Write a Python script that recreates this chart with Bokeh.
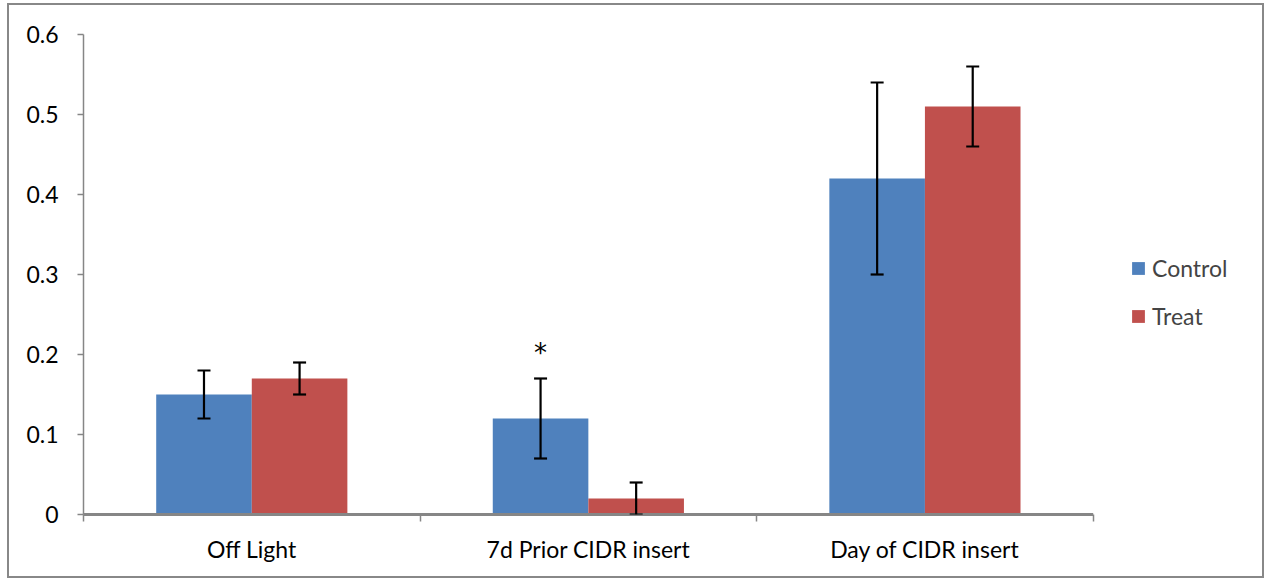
from bokeh.plotting import figure
from bokeh.models import (ColumnDataSource, Whisker, FixedTicker, Legend, LegendItem,
                          Range1d, Label)
from bokeh.embed import file_html
from bokeh.resources import INLINE

categories = ["Off Light", "7d Prior CIDR insert", "Day of CIDR insert"]
control = [0.15, 0.12, 0.42]
treat = [0.17, 0.02, 0.51]
control_err = [0.03, 0.05, 0.12]
treat_err = [0.02, 0.02, 0.05]
sig_marks = ["", "*", ""]
y_ticks = [0, 0.1, 0.2, 0.3, 0.4, 0.5, 0.6]
y_tick_labels = ["0", "0.1", "0.2", "0.3", "0.4", "0.5", "0.6"]

FONT = "Lato"
FS = "23px"
BLUE = "#4F81BD"
RED = "#C0504D"
AXIS = "#868686"
BW = 0.284
N = len(categories)
X_END = N + 0.5   # extra room on the right of the axis for the legend

idx = list(range(N))
xc = [i + 0.5 - BW / 2 for i in idx]
xt = [i + 0.5 + BW / 2 for i in idx]

src_c = ColumnDataSource(dict(x=xc, top=control,
                              lo=[v - e for v, e in zip(control, control_err)],
                              hi=[v + e for v, e in zip(control, control_err)]))
src_t = ColumnDataSource(dict(x=xt, top=treat,
                              lo=[max(0, v - e) for v, e in zip(treat, treat_err)],
                              hi=[v + e for v, e in zip(treat, treat_err)]))

p = figure(width=1257, height=575, output_backend="svg", toolbar_location=None,
           x_range=Range1d(0, X_END), y_range=Range1d(0, 0.6),
           min_border_left=74, min_border_right=5, min_border_top=29,
           min_border_bottom=66)
p.styles = {"border": "2px solid #888888", "margin-left": "7px", "margin-top": "3px"}
p.outline_line_color = None
p.xgrid.grid_line_color = None
p.ygrid.grid_line_color = None

rc = p.vbar(x="x", top="top", width=BW, bottom=0, source=src_c, fill_color=BLUE, line_color=None)
rt = p.vbar(x="x", top="top", width=BW, bottom=0, source=src_t, fill_color=RED, line_color=None)

# category axis baseline (only under the categories)
p.segment(x0=[0], y0=[0], x1=[N], y1=[0], line_color=AXIS, line_width=3, level="overlay")

for s in (src_c, src_t):
    w = Whisker(base="x", lower="lo", upper="hi", source=s, line_color="black",
                line_width=2.2, level="overlay")
    for h in (w.upper_head, w.lower_head):
        h.size = 13
        h.line_width = 2.2
        h.line_color = "black"
    p.add_layout(w)

for i, m in enumerate(sig_marks):
    if m:
        p.add_layout(Label(x=xc[i], y=control[i] + control_err[i], text=m, text_align="center",
                           text_baseline="bottom", y_offset=11, text_font="DejaVu Sans",
                           text_font_size="26px", text_color="black"))

# axes
p.xaxis.ticker = FixedTicker(ticks=[i + 0.5 for i in idx], minor_ticks=list(range(N + 1)))
p.xaxis.major_label_overrides = {i + 0.5: c for i, c in zip(idx, categories)}
p.xaxis.major_tick_out = 0
p.xaxis.major_tick_in = 0
p.xaxis.minor_tick_out = 7
p.xaxis.minor_tick_in = 0
p.xaxis.minor_tick_line_color = AXIS
p.xaxis.axis_line_color = None
p.xaxis.minor_tick_line_width = 1.5
p.xaxis.major_label_text_font = FONT
p.xaxis.major_label_text_font_size = FS
p.xaxis.major_label_text_color = "black"
p.xaxis.major_label_standoff = 13

p.yaxis.ticker = FixedTicker(ticks=y_ticks, minor_ticks=[])
p.yaxis.major_label_overrides = {t: l for t, l in zip(y_ticks, y_tick_labels)}
p.yaxis.major_tick_out = 6
p.yaxis.major_tick_in = 0
p.yaxis.major_tick_line_color = AXIS
p.yaxis.axis_line_color = AXIS
p.yaxis.axis_line_width = 1.5
p.yaxis.major_tick_line_width = 1.5
p.yaxis.major_label_text_font = FONT
p.yaxis.major_label_text_font_size = FS
p.yaxis.major_label_text_color = "black"
p.yaxis.major_label_standoff = 19

legend = Legend(items=[LegendItem(label="Control", renderers=[rc]),
                       LegendItem(label="Treat", renderers=[rt])],
                location=(1047, 184), glyph_width=16, glyph_height=16, label_height=24,
                spacing=20, label_text_font=FONT, label_text_font_size=FS,
                label_standoff=6, border_line_color=None, background_fill_alpha=0,
                padding=10, margin=0)
p.add_layout(legend, "center")

open("out.html", "w").write(file_html(p, INLINE))
